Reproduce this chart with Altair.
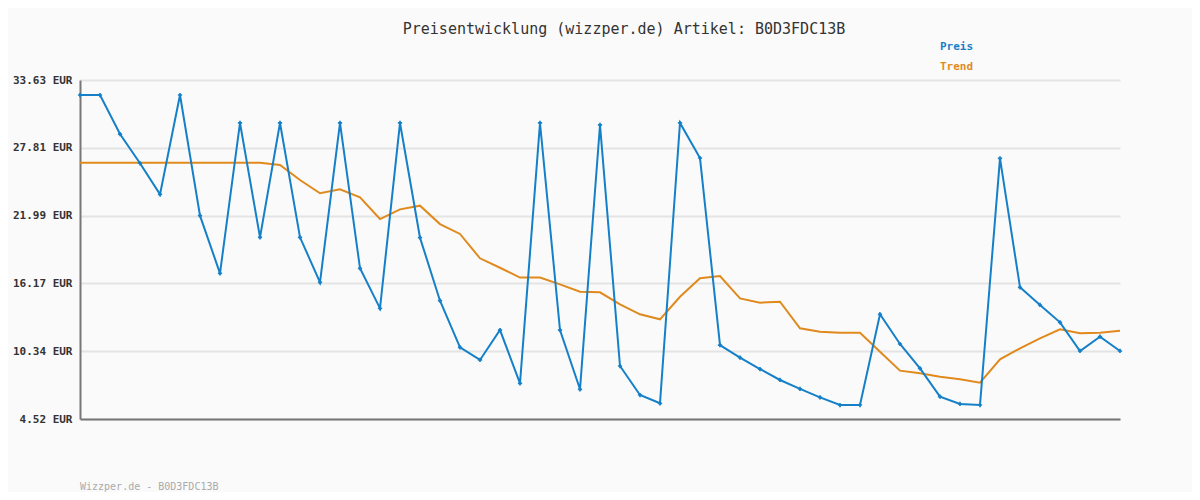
import altair as alt
import pandas as pd

preis = [32.34, 32.34, 28.99, 26.48, 23.81, 32.34, 21.98, 17.03, 29.94, 20.12,
         29.94, 20.12, 16.26, 29.94, 17.46, 14.02, 29.94, 20.09, 14.68, 10.67,
         9.59, 12.16, 7.58, 29.94, 12.16, 7.07, 29.77, 9.07, 6.58, 5.87,
         29.94, 26.93, 10.87, 9.79, 8.81, 7.87, 7.10, 6.38, 5.72, 5.72,
         13.51, 10.96, 8.87, 6.44, 5.81, 5.72, 26.90, 15.83, 14.31, 12.82,
         10.36, 11.59, 10.36]
trend = [26.53, 26.53, 26.53, 26.53, 26.53, 26.53, 26.53, 26.53, 26.53, 26.53,
         26.33, 25.04, 23.90, 24.24, 23.55, 21.69, 22.52, 22.84, 21.26, 20.41,
         18.32, 17.51, 16.66, 16.66, 16.08, 15.45, 15.40, 14.37, 13.51, 13.08,
         15.02, 16.60, 16.80, 14.88, 14.51, 14.59, 12.31, 12.02, 11.93, 11.93,
         10.30, 8.67, 8.44, 8.15, 7.93, 7.64, 9.64, 10.59, 11.45, 12.22,
         11.88, 11.93, 12.10]
y_ticks = [4.52, 10.34, 16.17, 21.99, 27.81, 33.63]
title_text = "Preisentwicklung (wizzper.de) Artikel: B0D3FDC13B"
footer_text = "Wizzper.de - B0D3FDC13B"
legend_labels = ["Preis", "Trend"]

BLUE = "#1580c8"
ORANGE = "#e08a1e"
MONO = "DejaVu Sans Mono"

df = pd.DataFrame({"i": list(range(len(preis))), "preis": preis, "trend": trend})

xs = alt.X("i:Q", scale=alt.Scale(domain=[0, len(preis) - 1], nice=False, zero=False),
           axis=alt.Axis(labels=False, ticks=False, grid=False, title=None,
                         domainColor="#777777", domainWidth=2))
ys_scale = alt.Scale(domain=[y_ticks[0], y_ticks[-1]], nice=False, zero=False)

base = alt.Chart(df)

trend_line = base.mark_line(color=ORANGE, strokeWidth=2).encode(
    x=xs,
    y=alt.Y("trend:Q", scale=ys_scale,
            axis=alt.Axis(values=y_ticks, labelExpr="format(datum.value, '.2f') + ' EUR'",
                          title=None, ticks=False, grid=True, gridColor="#e4e4e4", gridWidth=2,
                          domainColor="#777777", domainWidth=2,
                          labelFont=MONO, labelFontSize=11, labelFontWeight="bold",
                          labelColor="#333333", labelPadding=8)),
)
preis_line = base.mark_line(color=BLUE, strokeWidth=2).encode(x="i:Q", y="preis:Q")
preis_pts = base.mark_point(shape="cross", filled=True, size=18, color=BLUE, opacity=1).encode(
    x="i:Q", y="preis:Q")

data_layer = alt.layer(trend_line, preis_line, preis_pts)

leg_df = pd.DataFrame({"label": legend_labels})
legend = alt.Chart(leg_df).mark_text(font=MONO, fontSize=11, fontWeight="bold",
                                     align="left", baseline="middle").encode(
    text="label:N",
    x=alt.value(860),
    y=alt.Y("label:N", scale=alt.Scale(type="point", domain=legend_labels,
                                       range=[-33, -13], padding=0), axis=None),
    color=alt.Color("label:N", scale=alt.Scale(domain=legend_labels, range=[BLUE, ORANGE]), legend=None),
)

footer = alt.Chart(pd.DataFrame({"t": [footer_text]})).mark_text(
    font=MONO, fontSize=10, color="#aaaaaa", align="left", baseline="middle").encode(
    text="t:N", x=alt.value(0), y=alt.value(407))

chart = alt.layer(data_layer, legend, footer).resolve_scale(
    y="independent", color="independent"
).properties(
    width=1040, height=339,
    title=alt.TitleParams(title_text, font=MONO, fontSize=15, fontWeight="normal",
                          color="#333333", anchor="middle", dx=24, offset=4),
    autosize=alt.AutoSizeParams(type="none"),
    padding={"left": 72, "top": 72, "right": 72, "bottom": 73},
    background="#fafafa",
).configure_view(stroke=None)

chart.save("out.html", embed_options={"renderer": "svg", "actions": False})
